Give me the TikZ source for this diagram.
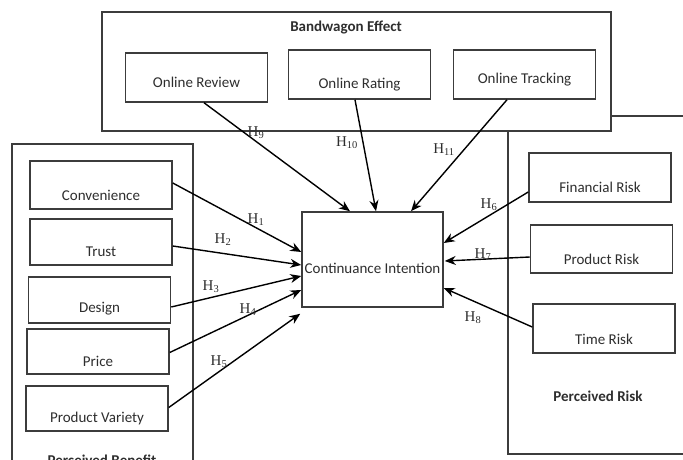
\documentclass[tikz,border=0pt]{standalone}
\usepackage{fontspec}
\setmainfont{Carlito}
\newfontfamily\hfont{Liberation Serif}
\usetikzlibrary{arrows.meta,calc}
\definecolor{ln}{HTML}{3C3C3C}
\definecolor{tx}{HTML}{2E2E2E}
\begin{document}
\begin{tikzpicture}[x=1pt,y=-1pt,
  frame/.style={draw=ln,line width=1.5pt},
  box/.style={draw=ln,line width=1.5pt,fill=white,minimum width=142pt,minimum height=47pt,inner sep=0pt},
  lbl/.style={font=\fontsize{15}{17}\selectfont,text=tx,inner sep=0pt},
  ttl/.style={font=\fontsize{15}{17}\selectfont\bfseries,text=tx,inner sep=0pt},
  hyp/.style={font=\hfont\fontsize{15}{17}\selectfont,text=tx,inner sep=0pt},
  arr/.style={draw=black,line width=1.4pt,-{Stealth[length=11pt,width=9pt]}}]
\useasboundingbox (0,0) rectangle (683,460);
\clip (0,0) rectangle (683,460);
% Perceived Benefit frame
\draw[frame] (12,470) |- (193,144) -- (193,470);
\node[ttl] (pbt) at (102,460) {Perceived Benefit};
% Perceived Risk frame
\draw[frame] (700,116) -| (508,454) -- (700,454);
\node[ttl] (prt) at (598,396) {Perceived Risk};
% Bandwagon frame
\draw[frame,fill=white] (102,12) rectangle (611,131);
\node[ttl] (bwt) at (346,28) {Bandwagon Effect};
% Bandwagon boxes
\node[box,minimum height=49pt,label={[lbl,yshift=-4.5pt]center:Online Review}] (rev) at (196.5,77.5) {};
\node[box,minimum height=49pt,label={[lbl,yshift=-10pt]center:Online Rating}] (rat) at (359.5,74.5) {};
\node[box,minimum height=49pt,label={[lbl,yshift=-5.5pt]center:Online Tracking}] (trk) at (524.5,74.5) {};
% Benefit boxes
\node[box,minimum height=48pt,label={[lbl,yshift=-10pt]center:Convenience}] (conv) at (101,185) {};
\node[box,minimum height=46pt,label={[lbl,yshift=-10pt]center:Trust}] (trust) at (101,242) {};
\node[box,minimum height=46pt,label={[lbl,yshift=-9pt]center:Design}] (des) at (99.5,300) {};
\node[box,minimum height=45pt,label={[lbl,yshift=-10pt]center:Price}] (price) at (98,351.5) {};
\node[box,minimum height=45pt,label={[lbl,yshift=-9.5pt]center:Product Variety}] (pv) at (97,408.5) {};
% Risk boxes
\node[box,minimum height=49pt,label={[lbl,yshift=-9.5pt]center:Financial Risk}] (fin) at (600,177.5) {};
\node[box,minimum height=48pt,label={[lbl,yshift=-10pt]center:Product Risk}] (prr) at (601.5,249) {};
\node[box,minimum height=49pt,label={[lbl,yshift=-10.5pt]center:Time Risk}] (tim) at (604,328.5) {};
% Central box
\node[box,minimum width=141pt,minimum height=95pt,label={[lbl,yshift=-8.5pt]center:Continuance Intention}] (ci) at (372.5,259.5) {};
% Arrows from benefit
\draw[arr] ([yshift=2pt]conv.east) -- ([yshift=7.5pt]ci.west);
\draw[arr] ([yshift=-4pt]trust.east) -- ([yshift=-5.5pt]ci.west);
\draw[arr] ([yshift=-7pt]des.east) -- ([yshift=-16.5pt]ci.west);
\draw[arr] ([yshift=-1pt]price.east) -- ([yshift=-30.5pt]ci.west);
\draw[arr] ([yshift=1pt]pv.east) -- ([xshift=-1pt,yshift=-6pt]ci.south west);
% Arrows from bandwagon
\draw[arr] ([xshift=7.5pt]rev.south) -- ([xshift=-22.5pt]ci.north);
\draw[arr] ([xshift=-4.5pt]rat.south) -- ([xshift=3.5pt]ci.north);
\draw[arr] ([xshift=-17.5pt]trk.south) -- ([xshift=38.5pt]ci.north);
% Arrows from risk
\draw[arr] ([yshift=-14.5pt]fin.west) -- ([yshift=16.5pt]ci.east);
\draw[arr] ([yshift=-8pt]prr.west) -- ([xshift=1pt,yshift=-1.5pt]ci.east);
\draw[arr] ([yshift=1.5pt]tim.west) -- ([yshift=-28.5pt]ci.east);
% Hypothesis labels
\node[hyp] (h1) at (256,220) {H\textsubscript{1}};
\node[hyp] (h2) at (223,240) {H\textsubscript{2}};
\node[hyp] (h3) at (211,287) {H\textsubscript{3}};
\node[hyp] (h4) at (248,310) {H\textsubscript{4}};
\node[hyp] (h5) at (219,362) {H\textsubscript{5}};
\node[hyp] (h6) at (489,205) {H\textsubscript{6}};
\node[hyp] (h7) at (483,255) {H\textsubscript{7}};
\node[hyp] (h8) at (473,318) {H\textsubscript{8}};
\node[hyp] (h9) at (256,133) {H\textsubscript{9}};
\node[hyp] (h10) at (347,143) {H\textsubscript{10}};
\node[hyp] (h11) at (444,150) {H\textsubscript{11}};
\end{tikzpicture}
\end{document}
